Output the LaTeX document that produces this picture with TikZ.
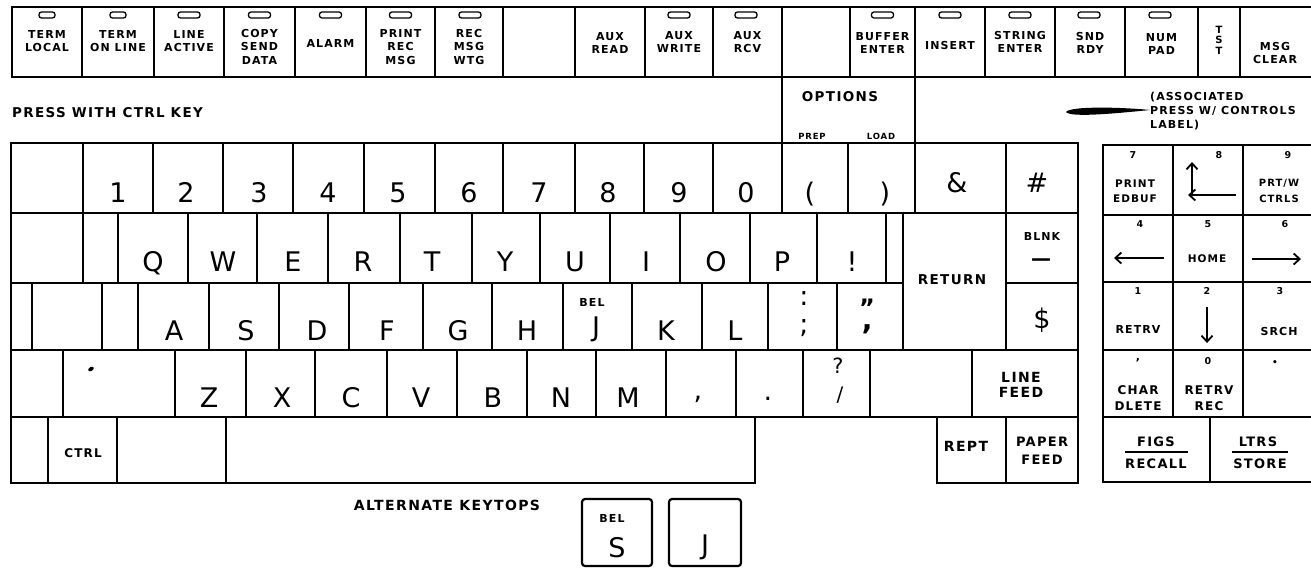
\documentclass[tikz,border=0pt]{standalone}
\usepackage{fontspec}
\setmainfont{DejaVu Sans}
\newfontfamily\lblfont[LetterSpace=10]{DejaVu Sans}
\usetikzlibrary{arrows.meta}
\tikzset{
  kl/.style={line width=1.8pt},
  pl/.style={line width=2.6pt},
  big/.style={inner sep=0, anchor=base, font=\fontsize{27}{27}\selectfont},
  sm/.style 2 args={inner sep=0, align=center, font=\lblfont\bfseries\fontsize{#1}{#2}\selectfont},
  tl/.style={sm={11}{13.5}},
  lamp/.style={draw, line width=1.3pt, rounded corners=2.5pt, minimum width=22pt, minimum height=6pt, inner sep=0},
  alt/.style={line width=2.2pt, rounded corners=3pt},
  parr/.style={line width=1.8pt, -{Straight Barb[length=6pt,width=11pt]}}
}
\begin{document}
\begin{tikzpicture}[x=1pt,y=-1pt]
\useasboundingbox (0,0) rectangle (1311,568);

% ---------- top row of indicator keys ----------
\draw[kl] (12,7) rectangle (1320,77);
\foreach \x in {82,154,224,295,366,435,503,575,645,713,782,850,915,985,1055,1125,1198,1240}
  \draw[kl] (\x,7) -- (\x,77);
\node[lamp, minimum width=16pt] (l1) at (47,15) {};
\node[lamp, minimum width=16pt] (l2) at (118,15) {};
\node[lamp] (l3) at (189,15) {};
\node[lamp] (l4) at (259.5,15) {};
\node[lamp] (l5) at (330.5,15) {};
\node[lamp] (l6) at (400.5,15) {};
\node[lamp] (l7) at (470,15) {};
\node[lamp] (l10) at (679,15) {};
\node[lamp] (l11) at (746,15) {};
\node[lamp] (l13) at (882.5,15) {};
\node[lamp] (l14) at (950,15) {};
\node[lamp] (l15) at (1020,15) {};
\node[lamp] (l16) at (1089,15) {};
\node[lamp] (l17) at (1160,15) {};

\node[tl, anchor=north] (t1) at (47,30) {TERM\\LOCAL};
\node[tl, anchor=north] (t2) at (118,30) {TERM\\ON LINE};
\node[tl, anchor=north] (t3) at (189,30) {LINE\\ACTIVE};
\node[tl, anchor=north] (t4) at (259.5,29) {COPY\\SEND\\DATA};
\node[tl] (t5) at (330.5,43.5) {ALARM};
\node[tl, anchor=north] (t6) at (400.5,29) {PRINT\\REC\\MSG};
\node[tl, anchor=north] (t7) at (469,29) {REC\\MSG\\WTG};
\node[tl, anchor=north] (t9) at (610,32) {AUX\\READ};
\node[tl, anchor=north] (t10) at (679,31) {AUX\\WRITE};
\node[tl, anchor=north] (t11) at (747.5,31) {AUX\\RCV};
\node[tl, anchor=north] (t13) at (882.5,32) {BUFFER\\ENTER};
\node[tl] (t14) at (950,45.5) {INSERT};
\node[tl, anchor=north] (t15) at (1020,31) {STRING\\ENTER};
\node[tl, anchor=north] (t16) at (1090,32) {SND\\RDY};
\node[tl, anchor=north] (t17) at (1161.5,33) {NUM\\PAD};
\node[sm={10}{10.3}, anchor=north] (t18) at (1219,26) {T\\S\\T};
\node[tl, anchor=north] (t19) at (1275,42) {MSG\\CLEAR};

% ---------- captions above keyboard ----------
\node[sm={13.5}{13.5}, anchor=base west] (press) at (12,117) {PRESS WITH CTRL KEY};
\draw[kl] (782,77) -- (782,143);
\draw[kl] (915,77) -- (915,143);
\node[sm={13.5}{13.5}] (options) at (840,97) {OPTIONS};
\node[sm={8.5}{8.5}] (prep) at (812,136) {PREP};
\node[sm={8.5}{8.5}] (load) at (881,136) {LOAD};
\node[sm={11}{14}, align=left, anchor=north west] (assoc) at (1150,92) {(ASSOCIATED\\ PRESS W/ CONTROLS\\ LABEL)};
\fill (1066,112) .. controls (1070,106) and (1120,107) .. (1150,110)
      .. controls (1120,113) and (1070,118) .. (1066,112);

% ---------- main keyboard ----------
% row 1
\foreach \a/\b in {11/83,83/153,153/223,223/293,293/364,364/435,435/503,503/575,575/644,644/713,713/782,782/848,848/915,915/1006,1006/1078}
  \draw[kl] (\a,143) rectangle (\b,213);
% row 2
\foreach \a/\b in {11/83,83/118,118/188,188/257,257/328,328/400,400/472,472/540,540/610,610/680,680/750,750/817,817/886,886/903,1006/1078}
  \draw[kl] (\a,213) rectangle (\b,283);
\draw[kl] (903,213) rectangle (1006,350);
% row 3
\foreach \a/\b in {11/32,32/102,102/138,138/209,209/279,279/349,349/423,423/492,492/563,563/632,632/702,702/768,768/837,837/903,1006/1078}
  \draw[kl] (\a,283) rectangle (\b,350);
% row 4
\foreach \a/\b in {11/63,63/175,175/246,246/315,315/387,387/457,457/527,527/596,596/666,666/736,736/803,803/870,870/972,972/1078}
  \draw[kl] (\a,350) rectangle (\b,417);
% row 5
\foreach \a/\b in {11/48,48/117,117/226,226/755,937/1006,1006/1078}
  \draw[kl] (\a,417) rectangle (\b,483);

% row 1 labels
\node[big] (k1) at (118,202) {1};
\node[big] (k2) at (186,202) {2};
\node[big] (k3) at (259,202) {3};
\node[big] (k4) at (328,202) {4};
\node[big] (k5) at (398,202) {5};
\node[big] (k6) at (469,202) {6};
\node[big] (k7) at (539,202) {7};
\node[big] (k8) at (608,202) {8};
\node[big] (k9) at (679,202) {9};
\node[big] (k0) at (746,202) {0};
\node[big] (klp) at (810,202) {(};
\node[big] (krp) at (885,202) {)};
\node[big] (kamp) at (957,192) {\&};
\node[big] (khash) at (1037,192) {\#};
% row 2 labels
\node[big] (kq) at (153,271) {Q};
\node[big] (kw) at (223,271) {W};
\node[big] (ke) at (293,271) {E};
\node[big] (kr) at (363,271) {R};
\node[big] (kt) at (432,271) {T};
\node[big] (ky) at (505,271) {Y};
\node[big] (ku) at (575,271) {U};
\node[big] (ki) at (646,271) {I};
\node[big] (ko) at (716,271) {O};
\node[big] (kp) at (782,271) {P};
\node[big] (kex) at (852,271) {!};
\node[sm={11}{11}] (blnk) at (1042,236) {BLNK};
\node[sm={20}{20}] (dash) at (1041,262) {—};
\node[sm={13.5}{13.5}] (ret) at (952,280) {RETURN};
% row 3 labels
\node[big] (ka) at (174,340) {A};
\node[big] (ks) at (246,340) {S};
\node[big] (kd) at (317,340) {D};
\node[big] (kf) at (387,340) {F};
\node[big] (kg) at (458,340) {G};
\node[big] (kh) at (527,340) {H};
\node[sm={11}{11}] (bel) at (592,302) {BEL};
\node[big] (kj) at (596,336) {J};
\node[big] (kk) at (666,340) {K};
\node[big] (kl) at (735,340) {L};
\node[big] (kcolon) at (804,305) {:};
\node[big] (ksemi) at (804,333) {;};
\node[sm={24}{24}] (kdq) at (867,308) {”};
\node[sm={30}{30}] (kap) at (867,336) {’};
\node[big] (kdollar) at (1042,328) {\$};
% row 4 labels
\node[big] (kz) at (209,407) {Z};
\node[big] (kx) at (282,407) {X};
\node[big] (kc) at (351,407) {C};
\node[big] (kv) at (421,407) {V};
\node[big] (kb) at (493,407) {B};
\node[big] (kn) at (561,407) {N};
\node[big] (km) at (628,407) {M};
\node[big] (kcomma) at (698,399) {,};
\node[big] (kdot) at (768,400) {.};
\node[sm={20}{20}, font=\fontsize{21}{21}\selectfont] (kq2) at (838,366) {?};
\node[sm={20}{20}, font=\fontsize{20}{20}\selectfont] (kslash) at (840,395) {/};
\fill[rotate around={30:(91,369)}] (91,369) ellipse (3pt and 2pt);
\node[sm={14}{14.5}] (lf) at (1021,385) {LINE\\FEED};
% row 5 labels
\node[sm={12}{12}] (ctrl) at (83,453) {CTRL};
\node[sm={14}{14}] (rept) at (966,446) {REPT};
\node[sm={13}{18}] (pf) at (1042,451) {PAPER\\FEED};

% ---------- numeric pad ----------
\foreach \r/\s in {145/215,215/282,282/350,350/417}
  \foreach \a/\b in {1103/1173,1173/1243,1243/1320}
    \draw[pl] (\a,\r) rectangle (\b,\s);
\draw[pl] (1103,417) rectangle (1210,482);
\draw[pl] (1210,417) rectangle (1320,482);

\node[sm={9.5}{9.5}] (p7) at (1133,155) {7};
\node[sm={9.5}{9.5}] (p8) at (1219,155) {8};
\node[sm={9.5}{9.5}] (p9) at (1288,155) {9};
\node[sm={10.5}{15.5}] (pedbuf) at (1135,191) {PRINT\\EDBUF};
\node[sm={10}{15.5}] (pprt) at (1279,191) {PRT/W\\CTRLS};
\draw[parr] (1192,196) -- (1192,162);
\draw[parr] (1236,195) -- (1188,195);

\node[sm={9.5}{9.5}] (p4) at (1140,224) {4};
\node[sm={9.5}{9.5}] (p5) at (1208,224) {5};
\node[sm={9.5}{9.5}] (p6) at (1285,224) {6};
\draw[parr] (1164,258) -- (1114,258);
\node[sm={10.5}{10.5}] (home) at (1207,259) {HOME};
\draw[parr] (1252,259) -- (1301,259);

\node[sm={9.5}{9.5}] (p1) at (1138,291) {1};
\node[sm={9.5}{9.5}] (p2) at (1207,291) {2};
\node[sm={9.5}{9.5}] (p3) at (1280,291) {3};
\node[sm={11}{11}] (retrv) at (1138,329) {RETRV};
\draw[parr] (1207,307) -- (1207,343);
\node[sm={11}{11}] (srch) at (1279,331) {SRCH};

\node[sm={11}{11}] (pcomma) at (1138,360) {,};
\node[sm={9.5}{9.5}] (p0) at (1208,361) {0};
\node[sm={9}{9}] (pdot) at (1275,363) {•};
\node[sm={12}{16.5}] (chard) at (1138,398) {CHAR\\DLETE};
\node[sm={12}{16.5}] (retrec) at (1209,398) {RETRV\\REC};

\node[sm={13}{13}] (figs) at (1156,442) {FIGS};
\draw[line width=1.5pt] (1125,452) -- (1188,452);
\node[sm={13}{13}] (recall) at (1156,464) {RECALL};
\node[sm={13}{13}] (ltrs) at (1258,442) {LTRS};
\draw[line width=1.5pt] (1232,452) -- (1288,452);
\node[sm={13}{13}] (store) at (1260,464) {STORE};

% ---------- alternate keytops ----------
\node[sm={14}{14}] (altcap) at (447,505) {ALTERNATE KEYTOPS};
\draw[alt] (582,499) rectangle (652,566);
\draw[alt] (669,499) rectangle (741,566);
\node[sm={11}{11}] (abel) at (612,518) {BEL};
\node[big] (as) at (617,557) {S};
\node[big] (aj) at (705,554) {J};
\end{tikzpicture}
\end{document}
